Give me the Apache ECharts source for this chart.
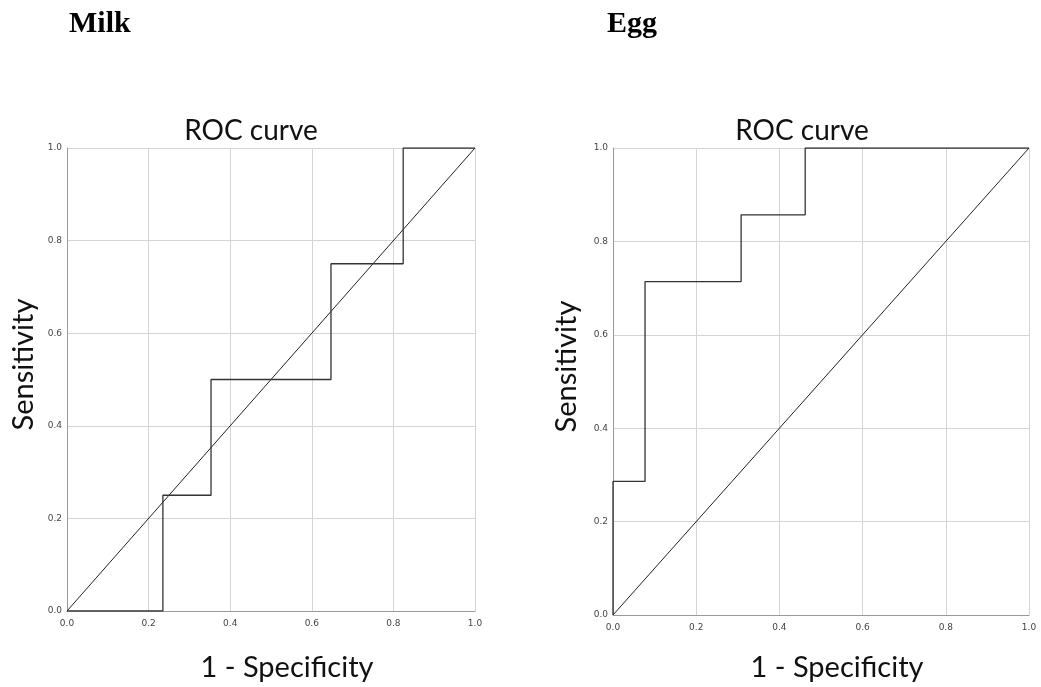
<!DOCTYPE html>
<html>
    <head>
        <meta charset="UTF-8">
        <script src="https://cdn.jsdelivr.net/npm/echarts@6/dist/echarts.min.js"></script>
    </head>
    <body style="margin:0;background:#fff">
        <div id="main" style="width:1041px;height:687px"></div>
        <script type="text/javascript">
            // ROC points (1 - specificity, sensitivity)
            var milkFpr = [0, 0.235, 0.235, 0.353, 0.353, 0.647, 0.647, 0.824, 0.824, 1];
            var milkTpr = [0, 0, 0.25, 0.25, 0.5, 0.5, 0.75, 0.75, 1, 1];
            var eggFpr = [0, 0, 0.077, 0.077, 0.308, 0.308, 0.462, 0.462, 1];
            var eggTpr = [0, 0.286, 0.286, 0.714, 0.714, 0.857, 0.857, 1, 1];
            var refLine = [0, 1];
            var panelNames = ['Milk', 'Egg'];
            var chartTitle = 'ROC curve';
            var xName = '1 - Specificity';
            var yName = 'Sensitivity';

            function pairs(xs, ys) {
                return xs.map(function (x, i) { return [x, ys[i]]; });
            }

            var chartDom = document.getElementById('main');
            var myChart = echarts.init(chartDom);

            var grids = [
                { left: 67, top: 148, width: 408, height: 463, outerBoundsMode: 'none' },
                { left: 613, top: 148, width: 416, height: 467, outerBoundsMode: 'none' }
            ];

            function xAxisFor(i, gap) {
                return {
                    type: 'value', gridIndex: i, min: 0, max: 1, interval: 0.2,
                    name: xName, nameLocation: 'middle', nameGap: gap,
                    nameTextStyle: { fontFamily: 'Lato', fontSize: 29, color: '#111', padding: [0, 0, 0, 32] },
                    axisLine: { lineStyle: { color: '#999', width: 1 } },
                    axisTick: { show: false },
                    axisLabel: { fontFamily: 'DejaVu Sans', fontSize: 9, color: '#444', margin: 8,
                        formatter: function (v) { return v.toFixed(1); } },
                    splitLine: { show: true, lineStyle: { color: '#d4d4d4', width: 1 } }
                };
            }
            function yAxisFor(i, gap) {
                return {
                    type: 'value', gridIndex: i, min: 0, max: 1, interval: 0.2,
                    name: yName, nameLocation: 'middle', nameGap: gap,
                    nameTextStyle: { fontFamily: 'Lato', fontSize: 29, color: '#111', padding: [0, 0, 0, 30] },
                    axisLine: { show: true, lineStyle: { color: '#999', width: 1 } },
                    axisTick: { show: false },
                    axisLabel: { fontFamily: 'DejaVu Sans', fontSize: 9, color: '#444', margin: 5,
                        formatter: function (v) { return v.toFixed(1); } },
                    splitLine: { show: true, lineStyle: { color: '#d4d4d4', width: 1 } }
                };
            }

            var panelStyle = { fontFamily: 'Liberation Serif', fontWeight: 'bold', fontSize: 30, color: '#000' };
            var titleStyle = { fontFamily: 'Lato', fontWeight: 'normal', fontSize: 28, color: '#111' };

            var option = {
                animation: false,
                title: [
                    { text: panelNames[0], left: 64, top: 4, textStyle: panelStyle },
                    { text: panelNames[1], left: 602, top: 4, textStyle: panelStyle },
                    { text: chartTitle, left: 246, top: 112, textAlign: 'center', textStyle: titleStyle },
                    { text: chartTitle, left: 797, top: 112, textAlign: 'center', textStyle: titleStyle }
                ],
                grid: grids,
                xAxis: [xAxisFor(0, 42), xAxisFor(1, 38)],
                yAxis: [yAxisFor(0, 29), yAxisFor(1, 32)],
                series: [
                    { type: 'line', xAxisIndex: 0, yAxisIndex: 0, data: pairs(refLine, refLine),
                      symbol: 'none', lineStyle: { color: '#222', width: 1 } },
                    { type: 'line', xAxisIndex: 0, yAxisIndex: 0, data: pairs(milkFpr, milkTpr),
                      symbol: 'none', lineStyle: { color: '#333', width: 1.3 } },
                    { type: 'line', xAxisIndex: 1, yAxisIndex: 1, data: pairs(refLine, refLine),
                      symbol: 'none', lineStyle: { color: '#222', width: 1 } },
                    { type: 'line', xAxisIndex: 1, yAxisIndex: 1, data: pairs(eggFpr, eggTpr),
                      symbol: 'none', lineStyle: { color: '#333', width: 1.3 } }
                ]
            };

            option && myChart.setOption(option);
        </script>
    </body>
</html>
